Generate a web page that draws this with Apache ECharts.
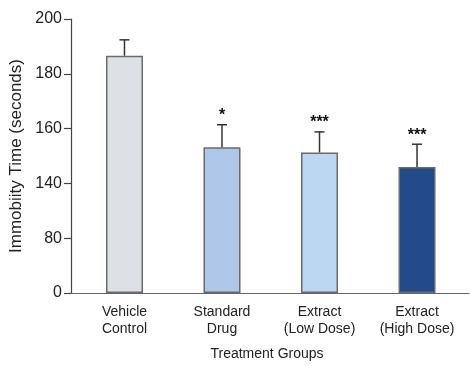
<!DOCTYPE html>
<html>
<head>
<meta charset="utf-8">
<script src="https://cdn.jsdelivr.net/npm/echarts@6/dist/echarts.min.js"></script>
<style>html,body{margin:0;padding:0;background:#fff}#c{width:470px;height:366px}</style>
</head>
<body>
<div id="c"></div>
<script>
const categories = ['Vehicle\nControl', 'Standard\nDrug', 'Extract\n(Low Dose)', 'Extract\n(High Dose)'];
const means = [186.6, 153.2, 151.3, 146.0];
const sems = [5.8, 8.2, 7.5, 8.3];
const stars = ['', '*', '***', '***'];
const barColors = ['#dde0e4', '#aec7e8', '#bcd7f2', '#234b8c'];
const yTickLabels = [0, 80, 140, 160, 180, 200];

// map a value in seconds onto the (non-linear) tick scale of the original axis
function toPos(v) {
  for (let i = 0; i < yTickLabels.length - 1; i++) {
    const a = yTickLabels[i], b = yTickLabels[i + 1];
    if (v <= b || i === yTickLabels.length - 2) return i + (v - a) / (b - a);
  }
  return 0;
}

const font = '"Liberation Sans", Arial, sans-serif';
const chart = echarts.init(document.getElementById('c'), null, {renderer: 'canvas'});
chart.setOption({
  animation: false,
  backgroundColor: '#fff',
  grid: {left: 65, right: 1, top: 19, bottom: 73, containLabel: false, outerBoundsMode: 'none'},
  xAxis: {
    type: 'value', min: -0.61, max: 3.533,
    axisLine: {show: true, onZero: false, lineStyle: {color: '#666', width: 1.2}},
    axisTick: {show: false},
    splitLine: {show: false},
    axisLabel: {
      customValues: [0, 1, 2, 3],
      formatter: v => categories[Math.round(v)],
      color: '#222', fontSize: 14, fontFamily: font, lineHeight: 17.5, margin: 10
    },
    name: 'Treatment Groups', nameLocation: 'middle', nameGap: 54,
    nameTextStyle: {color: '#222', fontSize: 14, fontFamily: font}
  },
  yAxis: {
    type: 'value', min: 0, max: 5, interval: 1, offset: -6,
    axisLine: {show: true, onZero: false, lineStyle: {color: '#444', width: 1.2}},
    axisTick: {show: true, length: 7, lineStyle: {color: '#444', width: 1.2}},
    splitLine: {show: false},
    axisLabel: {formatter: v => String(yTickLabels[v]), color: '#222', fontSize: 16, fontFamily: font, margin: 9},
    name: 'Immobiity Time (seconds)', nameLocation: 'middle', nameGap: 42,
    nameTextStyle: {color: '#222', fontSize: 17, fontFamily: font}
  },
  series: [
    {
      type: 'bar', barWidth: 37,
      data: means.map((m, i) => ({value: [i, toPos(m)], itemStyle: {color: barColors[i], borderColor: '#6b6b6b', borderWidth: 1.5}}))
    },
    {
      type: 'custom',
      data: means.map((m, i) => [i, toPos(m), toPos(m + sems[i])]),
      renderItem: function (params, api) {
        const x = api.value(0);
        const base = api.coord([x, api.value(1)]);
        const top = api.coord([x, api.value(2)]);
        const i = params.dataIndex;
        const children = [
          {type: 'line', shape: {x1: base[0], y1: base[1], x2: top[0], y2: top[1]}, style: {stroke: '#333', lineWidth: 1.5}},
          {type: 'line', shape: {x1: top[0] - 5, y1: top[1], x2: top[0] + 5, y2: top[1]}, style: {stroke: '#333', lineWidth: 1.5}}
        ];
        if (stars[i]) {
          children.push({type: 'text', style: {text: stars[i], x: top[0], y: top[1] - 9, align: 'center', verticalAlign: 'middle', fill: '#111', font: 'bold 16px ' + font}});
        }
        return {type: 'group', children: children};
      },
      z: 5
    }
  ]
});
</script>
</body>
</html>
